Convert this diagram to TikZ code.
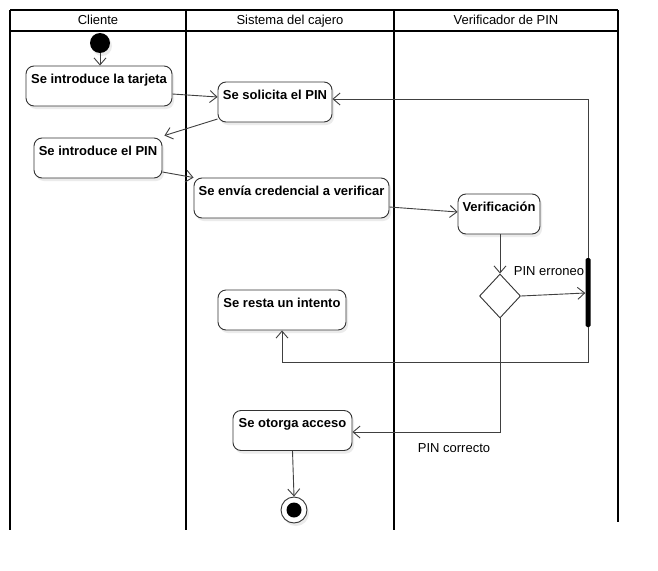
\documentclass[tikz,border=0pt]{standalone}
\usepackage{fontspec}
\setmainfont{Liberation Sans}
\usetikzlibrary{arrows.meta,shapes.geometric,shadows,calc}
\begin{document}
\begin{tikzpicture}[x=1pt,y=-1pt,
  lane/.style={line width=2pt,black},
  act/.style={draw=black!80, fill=white, line width=0.9pt, rounded corners=8pt,
    font=\bfseries\fontsize{13}{15}\selectfont, text height=13pt, text depth=19pt,
    inner ysep=4pt, inner xsep=0pt, minimum height=40pt,
    drop shadow={shadow xshift=2pt,shadow yshift=-3pt,fill=black!8,opacity=1}},
  flow/.style={draw=black!75, line width=0.9pt, -{Straight Barb[length=7pt,width=12pt]}},
  lbl/.style={font=\fontsize{13}{15}\selectfont, inner sep=0pt, anchor=base}]
\useasboundingbox (0,0) rectangle (658,570);
\fill[white] (0,0) rectangle (658,570);
% swimlanes
\draw[lane] (10,10) -- (618,10);
\draw[line width=1.5pt] (10,31) -- (618,31);
\draw[lane] (10,10) -- (10,530);
\draw[lane] (186,10) -- (186,530);
\draw[lane] (394,10) -- (394,530);
\draw[lane] (618,10) -- (618,522);
\node[lbl] (h1) at (98,24.5) {Cliente};
\node[lbl] (h2) at (290,24.5) {Sistema del cajero};
\node[lbl] (h3) at (506,24.5) {Verificador de PIN};
% nodes
\node[circle, fill=black, minimum size=20pt, inner sep=0pt,
  drop shadow={shadow xshift=2pt,shadow yshift=-3pt,fill=black!8,opacity=1}] (ini) at (100,43) {};
\node[act, minimum width=146pt] (tarjeta) at (99,86) {Se introduce la tarjeta};
\node[act, minimum width=114pt] (solicita) at (275,102) {Se solicita el PIN};
\node[act, minimum width=128pt] (intro) at (98,158) {Se introduce el PIN};
\node[act, minimum width=195pt] (envia) at (291.5,198) {Se envía credencial a verificar};
\node[act, minimum width=82pt] (verif) at (499,214) {Verificación};
\node[diamond, draw=black!80, fill=white, line width=0.9pt, minimum width=41pt, minimum height=44pt, inner sep=0pt] (dec) at (500,296) {};
\node[fill=black, minimum width=5pt, minimum height=69pt, inner sep=0pt, rounded corners=1.5pt] (bar) at (588,292.5) {};
\node[act, minimum width=128pt] (resta) at (282,310) {Se resta un intento};
\node[act, minimum width=119pt] (otorga) at (292.5,430.5) {Se otorga acceso};
\node[circle, draw=black!80, fill=white, line width=0.9pt, minimum size=26pt, inner sep=0pt,
  drop shadow={shadow xshift=2pt,shadow yshift=-3pt,fill=black!8,opacity=1}] (fin) at (294,510) {};
\node[circle, fill=black, minimum size=15pt, inner sep=0pt] (fininner) at (fin) {};
% labels
\node[lbl] (lerr) at (549,275) {PIN erroneo};
\node[lbl] (lok) at (454,452) {PIN correcto};
% flows
\draw[flow] (ini.south) -- (ini.south |- tarjeta.north);
\draw[flow] (tarjeta.east |- 0,94) -- (solicita.west |- 0,97);
\draw[flow] (solicita.west |- 0,119) -- ($(intro.north east)+(2,-2)$);
\draw[flow] (intro.east |- 0,172) -- (envia.north west);
\draw[flow] (envia.east |- 0,207) -- (verif.west |- 0,212);
\draw[flow] (verif.south -| dec.north) -- (dec.north);
\draw[flow] (dec.east) -- (bar.west |- 0,293);
\draw[flow] (bar.north) |- (solicita.east |- 0,99);
\draw[flow] (bar.south) -- ++(0,35) -| (resta.south);
\draw[flow] (dec.south) |- (otorga.east |- 0,432);
\draw[flow] (otorga.south) -- (fin.north);
\end{tikzpicture}
\end{document}
